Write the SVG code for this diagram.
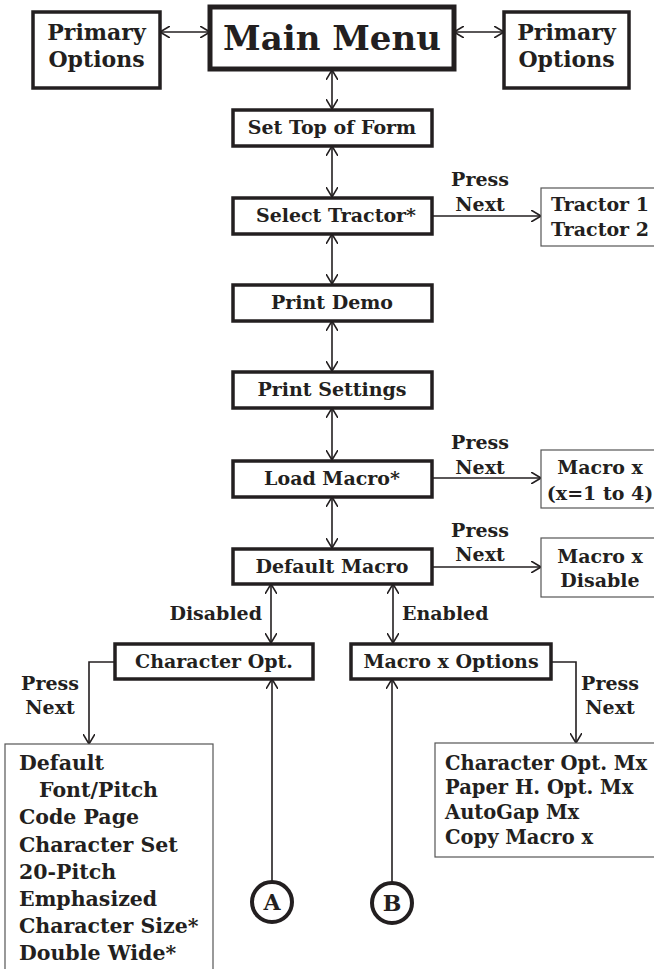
<svg xmlns="http://www.w3.org/2000/svg" width="654" height="969" viewBox="0 0 654 969">
<style>
text{font-family:"DejaVu Serif","Liberation Serif",serif;font-weight:bold;fill:#231f20}
.box{fill:#fff;stroke:#231f20;stroke-width:3.5}
.main{fill:#fff;stroke:#231f20;stroke-width:5}
.thin{fill:#fff;stroke:#555;stroke-width:1.2}
.lbl{font-size:19px;text-anchor:middle}
.big{font-size:34px;text-anchor:middle}
.po{font-size:22px;text-anchor:middle}
.lst{font-size:20.5px}
.lst2{font-size:19.5px}
.c{fill:#fff;stroke:#231f20;stroke-width:4}
.ln{fill:none;stroke:#231f20;stroke-width:1.6}
</style>
<defs>
<marker id="ah" viewBox="0 0 10 12" refX="10" refY="6" markerWidth="10" markerHeight="12" markerUnits="userSpaceOnUse" orient="auto-start-reverse">
<path d="M0,0 L10,6 L0,12" fill="none" stroke="#231f20" stroke-width="1.6"/>
</marker>
</defs>
<g id="connectors">
<line class="ln" x1="160" y1="32" x2="210" y2="32" marker-start="url(#ah)" marker-end="url(#ah)"/>
<line class="ln" x1="454" y1="32" x2="504" y2="32" marker-start="url(#ah)" marker-end="url(#ah)"/>
<line class="ln" x1="332" y1="70" x2="332" y2="109" marker-start="url(#ah)" marker-end="url(#ah)"/>
<line class="ln" x1="332" y1="146" x2="332" y2="197" marker-start="url(#ah)" marker-end="url(#ah)"/>
<line class="ln" x1="332" y1="234" x2="332" y2="284" marker-start="url(#ah)" marker-end="url(#ah)"/>
<line class="ln" x1="332" y1="321" x2="332" y2="371" marker-start="url(#ah)" marker-end="url(#ah)"/>
<line class="ln" x1="332" y1="408" x2="332" y2="460" marker-start="url(#ah)" marker-end="url(#ah)"/>
<line class="ln" x1="332" y1="497" x2="332" y2="548" marker-start="url(#ah)" marker-end="url(#ah)"/>
<line class="ln" x1="432" y1="216" x2="541" y2="216" marker-end="url(#ah)"/>
<line class="ln" x1="432" y1="478" x2="541" y2="478" marker-end="url(#ah)"/>
<line class="ln" x1="432" y1="567" x2="541" y2="567" marker-end="url(#ah)"/>
<line class="ln" x1="271" y1="584" x2="271" y2="643" marker-start="url(#ah)" marker-end="url(#ah)"/>
<line class="ln" x1="393" y1="584" x2="393" y2="643" marker-start="url(#ah)" marker-end="url(#ah)"/>
<path class="ln" d="M114,662 H89 V744" marker-end="url(#ah)"/>
<path class="ln" d="M551,662 H576 V743" marker-end="url(#ah)"/>
<line class="ln" x1="272" y1="881" x2="272" y2="679" marker-end="url(#ah)"/>
<line class="ln" x1="392" y1="882" x2="392" y2="679" marker-end="url(#ah)"/>
<text class="lbl" x="480" y="186">Press</text>
<text class="lbl" x="480" y="211">Next</text>
<text class="lbl" x="480" y="449">Press</text>
<text class="lbl" x="480" y="474">Next</text>
<text class="lbl" x="480" y="537">Press</text>
<text class="lbl" x="480" y="561">Next</text>
<text class="lbl" x="262" y="620" style="text-anchor:end">Disabled</text>
<text class="lbl" x="402" y="620" style="text-anchor:start">Enabled</text>
<text class="lbl" x="50" y="690">Press</text>
<text class="lbl" x="50" y="714">Next</text>
<text class="lbl" x="610" y="690">Press</text>
<text class="lbl" x="610" y="714">Next</text>
</g>
<g id="primary-left">
<rect class="box" x="33" y="12" width="127" height="76"/>
<text class="po" x="96.5" y="40">Primary</text>
<text class="po" x="96.5" y="67">Options</text>
</g>
<g id="main-menu">
<rect class="main" x="210" y="7" width="244" height="62"/>
<text class="big" x="332" y="50">Main Menu</text>
</g>
<g id="primary-right">
<rect class="box" x="504" y="12" width="125" height="76"/>
<text class="po" x="566.5" y="40">Primary</text>
<text class="po" x="566.5" y="67">Options</text>
</g>
<g id="set-top">
<rect class="box" x="233" y="110" width="199" height="36"/>
<text class="lbl" x="332" y="134">Set Top of Form</text>
</g>
<g id="select-tractor">
<rect class="box" x="233" y="198" width="199" height="36"/>
<text class="lbl" x="336" y="222">Select Tractor*</text>
</g>
<g id="tractors">
<rect class="thin" x="541" y="188" width="120" height="58"/>
<text class="lbl" x="600" y="211">Tractor 1</text>
<text class="lbl" x="600" y="236">Tractor 2</text>
</g>
<g id="print-demo">
<rect class="box" x="233" y="285" width="199" height="36"/>
<text class="lbl" x="332" y="309">Print Demo</text>
</g>
<g id="print-settings">
<rect class="box" x="233" y="372" width="199" height="36"/>
<text class="lbl" x="332" y="396">Print Settings</text>
</g>
<g id="load-macro">
<rect class="box" x="233" y="461" width="199" height="36"/>
<text class="lbl" x="332" y="485">Load Macro*</text>
</g>
<g id="macro-x-range">
<rect class="thin" x="541" y="450" width="120" height="58"/>
<text class="lbl" x="600" y="474">Macro x</text>
<text class="lbl" x="600" y="500">(x=1 to 4)</text>
</g>
<g id="default-macro">
<rect class="box" x="233" y="549" width="199" height="35"/>
<text class="lbl" x="332" y="573">Default Macro</text>
</g>
<g id="macro-x-disable">
<rect class="thin" x="541" y="538" width="120" height="59"/>
<text class="lbl" x="600" y="563">Macro x</text>
<text class="lbl" x="600" y="587">Disable</text>
</g>
<g id="character-opt">
<rect class="box" x="115" y="644" width="198" height="35"/>
<text class="lbl" x="214" y="668">Character Opt.</text>
</g>
<g id="macro-x-options">
<rect class="box" x="351" y="644" width="200" height="35"/>
<text class="lbl" x="451" y="668">Macro x Options</text>
</g>
<g id="char-list">
<rect class="thin" x="5" y="744" width="208" height="240"/>
<text class="lst" x="19" y="770">Default</text>
<text class="lst" x="39" y="797">Font/Pitch</text>
<text class="lst" x="19" y="824">Code Page</text>
<text class="lst" x="19" y="852">Character Set</text>
<text class="lst" x="19" y="879">20-Pitch</text>
<text class="lst" x="19" y="906">Emphasized</text>
<text class="lst" x="19" y="933">Character Size*</text>
<text class="lst" x="19" y="960">Double Wide*</text>
</g>
<g id="macro-list">
<rect class="thin" x="435" y="743" width="230" height="114"/>
<text class="lst2" x="445" y="770">Character Opt. Mx</text>
<text class="lst2" x="445" y="794">Paper H. Opt. Mx</text>
<text class="lst2" x="445" y="819">AutoGap Mx</text>
<text class="lst2" x="445" y="844">Copy Macro x</text>
</g>
<g id="conn-a">
<circle class="c" cx="272" cy="902" r="20"/>
<text class="po" x="272" y="910">A</text>
</g>
<g id="conn-b">
<circle class="c" cx="392" cy="903" r="20"/>
<text class="po" x="392" y="911">B</text>
</g>
</svg>
